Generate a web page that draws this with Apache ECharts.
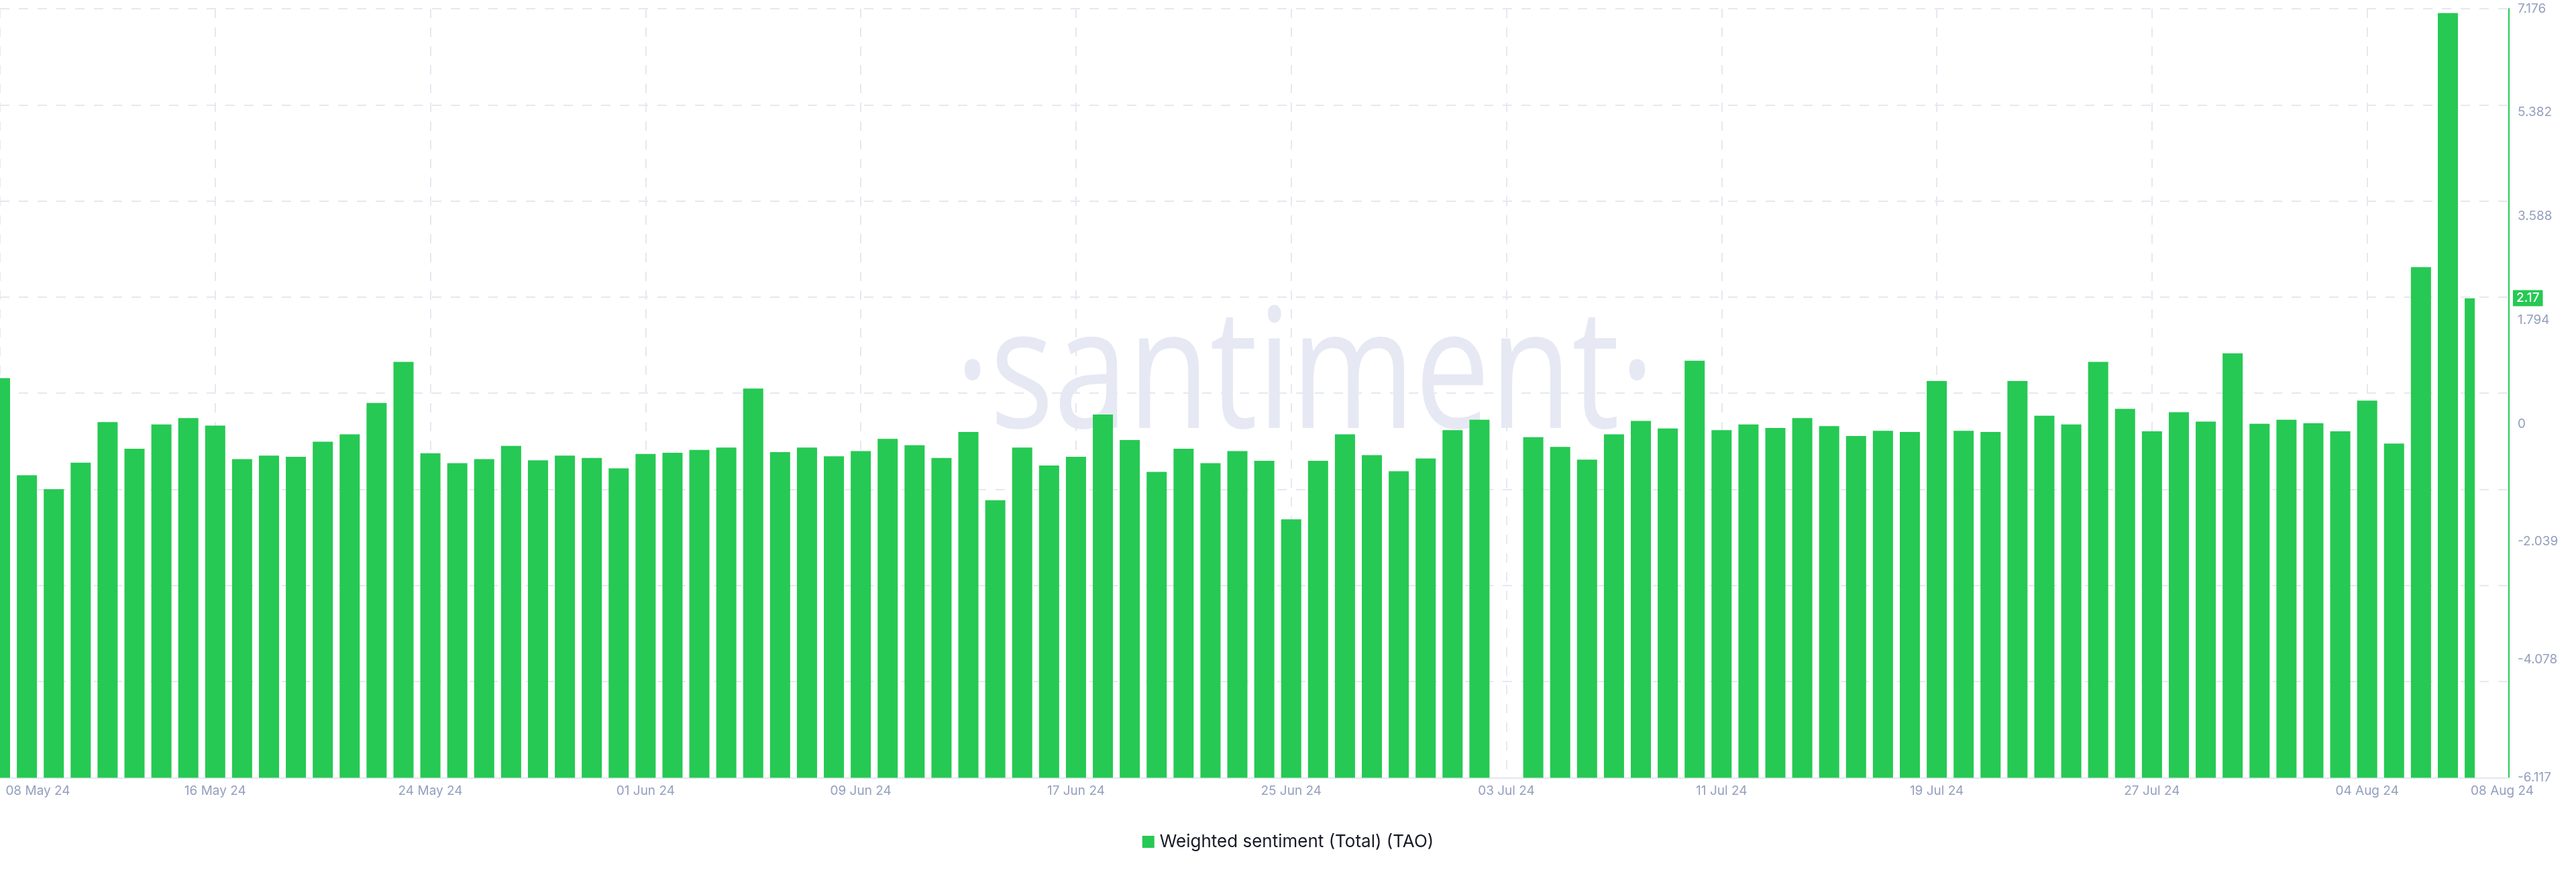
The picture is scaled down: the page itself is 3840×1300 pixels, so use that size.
<!DOCTYPE html>
<html><head><meta charset="utf-8">
<script src="https://cdn.jsdelivr.net/npm/echarts@6/dist/echarts.min.js"></script>
<style>html,body{margin:0;padding:0;background:#fff}#c{width:3840px;height:1300px}</style>
</head><body><div id="c"></div>
<script>
const dates = [
 '08 May 24','09 May 24','10 May 24','11 May 24','12 May 24','13 May 24','14 May 24','15 May 24','16 May 24','17 May 24',
 '18 May 24','19 May 24','20 May 24','21 May 24','22 May 24','23 May 24','24 May 24','25 May 24','26 May 24','27 May 24',
 '28 May 24','29 May 24','30 May 24','31 May 24',
 '01 Jun 24','02 Jun 24','03 Jun 24','04 Jun 24','05 Jun 24','06 Jun 24','07 Jun 24','08 Jun 24','09 Jun 24','10 Jun 24',
 '11 Jun 24','12 Jun 24','13 Jun 24','14 Jun 24','15 Jun 24','16 Jun 24','17 Jun 24','18 Jun 24','19 Jun 24','20 Jun 24',
 '21 Jun 24','22 Jun 24','23 Jun 24','24 Jun 24','25 Jun 24','26 Jun 24','27 Jun 24','28 Jun 24','29 Jun 24','30 Jun 24',
 '01 Jul 24','02 Jul 24','03 Jul 24','04 Jul 24','05 Jul 24','06 Jul 24','07 Jul 24','08 Jul 24','09 Jul 24','10 Jul 24',
 '11 Jul 24','12 Jul 24','13 Jul 24','14 Jul 24','15 Jul 24','16 Jul 24','17 Jul 24','18 Jul 24','19 Jul 24','20 Jul 24',
 '21 Jul 24','22 Jul 24','23 Jul 24','24 Jul 24','25 Jul 24','26 Jul 24','27 Jul 24','28 Jul 24','29 Jul 24','30 Jul 24',
 '31 Jul 24',
 '01 Aug 24','02 Aug 24','03 Aug 24','04 Aug 24','05 Aug 24','06 Aug 24','07 Aug 24','08 Aug 24'
];
const values = [
  0.79, -0.89, -1.13, -0.67,  0.03, -0.43, -0.01,  0.10, -0.03, -0.61,
 -0.55, -0.57, -0.31, -0.18,  0.36,  1.07, -0.51, -0.68, -0.61, -0.38,
 -0.63, -0.55, -0.59, -0.77, -0.52, -0.50, -0.45, -0.41,  0.61, -0.49,
 -0.41, -0.56, -0.47, -0.26, -0.37, -0.59, -0.14, -1.32, -0.41, -0.72,
 -0.57,  0.16, -0.28, -0.83, -0.43, -0.68, -0.47, -0.64, -1.65, -0.64,
 -0.18, -0.54, -0.82, -0.60, -0.11,  0.07,  null, -0.23, -0.40, -0.62,
 -0.18,  0.05, -0.08,  1.09, -0.11, -0.01, -0.07,  0.10, -0.04, -0.21,
 -0.12, -0.14,  0.74, -0.12, -0.14,  0.74,  0.14, -0.01,  1.07,  0.26,
 -0.13,  0.20,  0.04,  1.22,  0.00,  0.07,  0.01, -0.13,  0.40, -0.34,
  2.71,  7.10,  2.17
];
const xLabelDates = ['08 May 24','16 May 24','24 May 24','01 Jun 24','09 Jun 24','17 Jun 24','25 Jun 24',
  '03 Jul 24','11 Jul 24','19 Jul 24','27 Jul 24','04 Aug 24','08 Aug 24'];
const yTickValues = [7.176, 5.382, 3.588, 1.794, 0, -2.039, -4.078, -6.117];
const yTickLabels = ['7.176','5.382','3.588','1.794','0','-2.039','-4.078','-6.117'];
const seriesName = 'Weighted sentiment (Total) (TAO)';

// Bars are drawn from the bottom of the value range, so the value axis is
// expressed relative to Y_MIN (bars rise from Y_MIN up to each value).
const Y_MIN = -6.117, Y_MAX = 7.176;
const X_MAX = 93.27;
const GREEN = '#26c953';
const LABEL_COLOR = '#949fbf';
const GRID_COLOR = '#e6e8f1';
const FONT = 'Inter, "Noto Sans", sans-serif';

const shift = v => +(v - Y_MIN).toFixed(4);
const lastIdx = values.length - 1;
const mainData = values.slice(0, lastIdx).map((v, i) => [i, v == null ? '-' : shift(v)]);
const lastVal = values[lastIdx];
const yLabelPos = yTickValues.map(shift);
const xLabelIdx = xLabelDates.map(d => dates.indexOf(d));
const firstLabelIdx = xLabelIdx[0], lastLabelIdx = xLabelIdx[xLabelIdx.length - 1];

const chart = echarts.init(document.getElementById('c'), null, {renderer: 'canvas'});
const labelStyle = {color: LABEL_COLOR, fontSize: 19, fontFamily: FONT};
chart.setOption({
  animation: false,
  backgroundColor: '#ffffff',
  grid: {left: 0, right: 100, top: 13, bottom: 140.6, outerBoundsMode: 'none', containLabel: false},
  graphic: {elements: [{
    type: 'text', z: -10, silent: true, x: 1945, y: 567, scaleX: 0.8,
    style: {text: '·santiment·', font: '400 249px "Open Sans"', fill: '#e6e9f3',
      align: 'center', verticalAlign: 'middle', textAlign: 'center', textVerticalAlign: 'middle'}
  }]},
  legend: {
    data: [{name: seriesName}], top: 1237, left: 'center', icon: 'rect', itemWidth: 18, itemHeight: 18,
    selectedMode: false,
    textStyle: {fontSize: 26, color: '#181a26', fontFamily: FONT, padding: [0, 0, 0, 3]}
  },
  xAxis: [{
    type: 'value', min: 0, max: X_MAX, interval: 8,
    axisLine: {show: true, onZero: false, lineStyle: {color: '#e4e7f0', width: 2}},
    axisTick: {show: false},
    splitLine: {show: true, lineStyle: {type: [14, 14], color: GRID_COLOR, width: 2}},
    axisLabel: Object.assign({
      customValues: xLabelIdx, margin: 10,
      formatter: function (v) {
        const i = Math.round(v); const s = dates[i];
        if (i === firstLabelIdx) return '{first|' + s + '}';
        if (i === lastLabelIdx) return '{last|' + s + '}';
        return s;
      },
      rich: {
        first: Object.assign({padding: [0, 0, 0, 113]}, labelStyle),
        last: Object.assign({padding: [0, 0, 0, 82]}, labelStyle)
      }
    }, labelStyle)
  }, {
    type: 'value', min: 0, max: X_MAX, show: false
  }],
  yAxis: [{
    type: 'value', position: 'right', min: 0, max: shift(Y_MAX),
    splitLine: {show: false},
    axisLine: {show: true, onZero: false, lineStyle: {color: GREEN, width: 2}},
    axisTick: {show: false},
    axisLabel: Object.assign({
      customValues: yLabelPos, margin: 13,
      formatter: function (v) {
        for (let k = 0; k < yLabelPos.length; k++) if (Math.abs(yLabelPos[k] - v) < 1e-6) return yTickLabels[k];
        return '';
      }
    }, labelStyle)
  }, {
    type: 'value', position: 'left', min: 0, max: 8, interval: 1,
    axisLine: {show: false}, axisTick: {show: false}, axisLabel: {show: false},
    splitLine: {show: true, lineStyle: {type: [14, 14], color: GRID_COLOR, width: 2}}
  }],
  series: [
    {type: 'bar', name: seriesName, xAxisIndex: 0, yAxisIndex: 0,
     barWidth: 30, data: mainData, itemStyle: {color: GREEN}},
    {type: 'bar', name: seriesName, xAxisIndex: 1, yAxisIndex: 0, clip: false, z: 5,
     barWidth: 15, barGap: '0%', data: [[lastIdx, shift(lastVal)]], itemStyle: {color: GREEN},
     markLine: {
       silent: true, symbol: ['none', 'none'], animation: false, z: 10,
       lineStyle: {color: 'rgba(255,255,255,0)', width: 1, opacity: 1},
       data: [{yAxis: shift(lastVal)}],
       label: {show: true, position: 'end', distance: 6, formatter: String(lastVal), opacity: 1,
         backgroundColor: GREEN, color: '#ffffff', fontSize: 19, fontFamily: FONT, fontWeight: 500,
         padding: [3, 5, 2, 5]}
     }},
    {type: 'bar', name: 'pad', xAxisIndex: 1, yAxisIndex: 0,
     barWidth: 15, barGap: '0%', data: [[lastIdx, '-']], silent: true, itemStyle: {color: 'rgba(0,0,0,0)'}}
  ]
});
</script>
</body></html>
